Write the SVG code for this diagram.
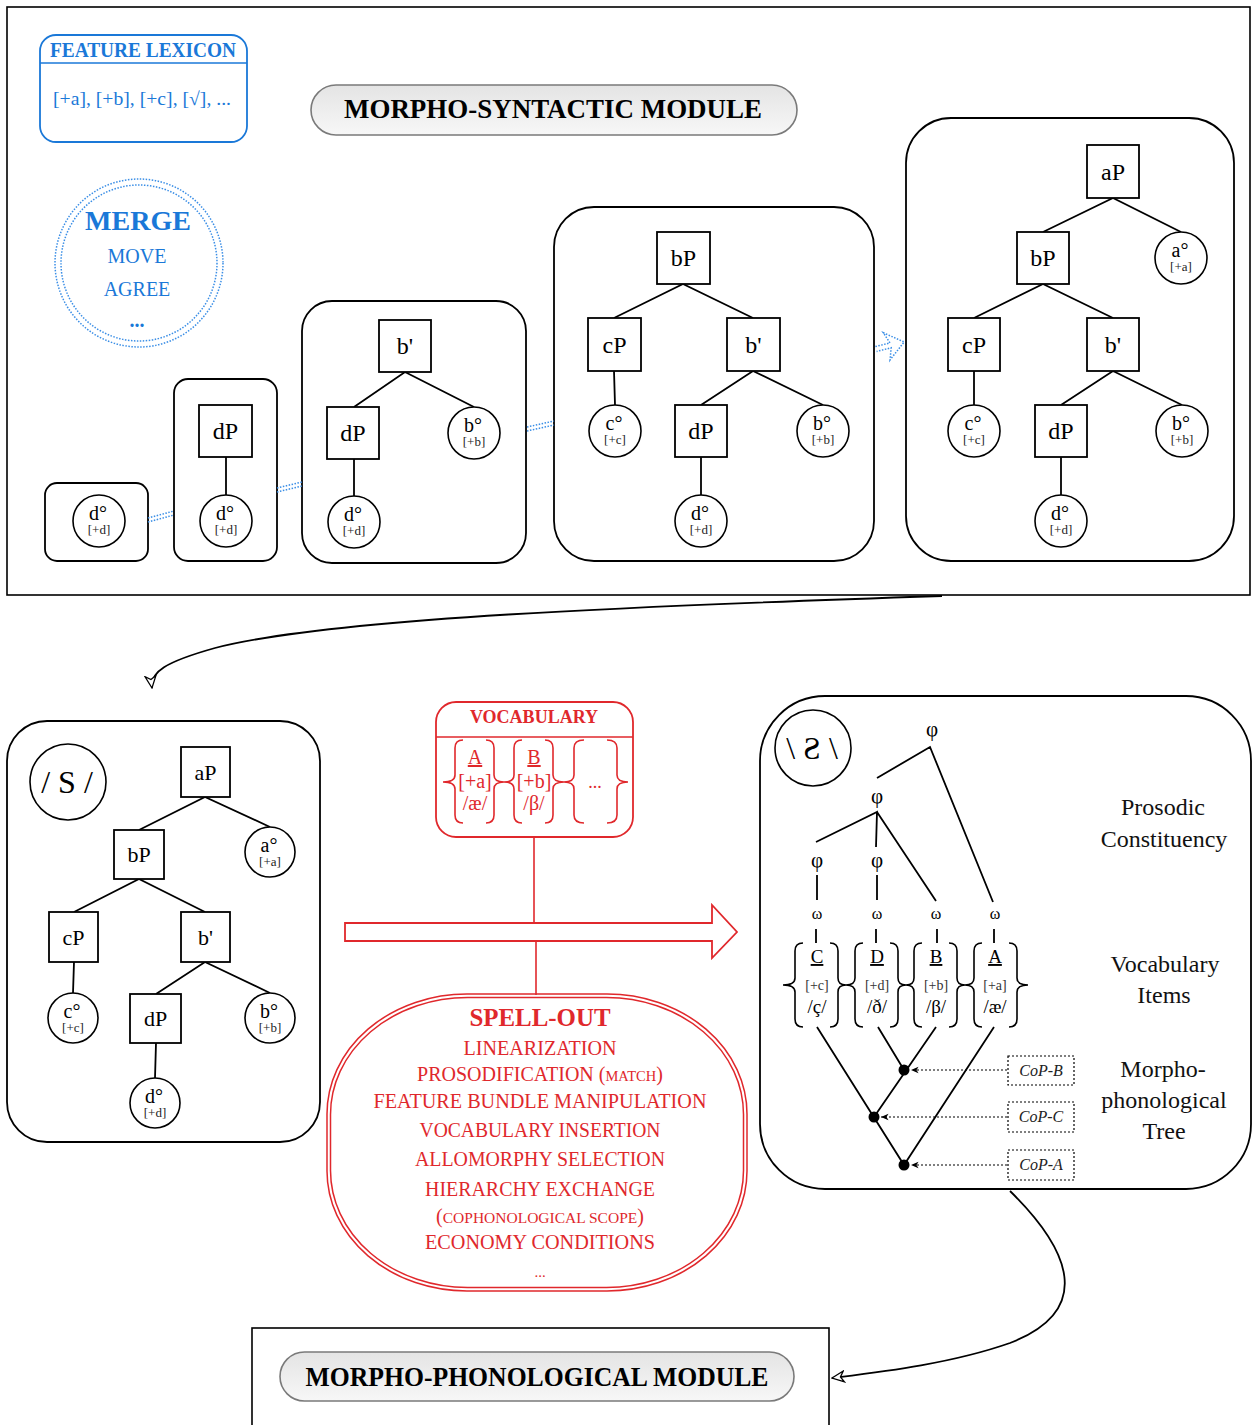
<svg xmlns="http://www.w3.org/2000/svg" width="1252" height="1425" viewBox="0 0 1252 1425">
<style>
text{font-family:"Liberation Serif","DejaVu Serif",serif;}
.frame{fill:none;stroke:#000;stroke-width:1.6;}
.box{fill:none;stroke:#000;stroke-width:1.8;}
.sq{fill:#fff;stroke:#000;stroke-width:1.8;}
.ci{fill:#fff;stroke:#000;stroke-width:1.6;}
.edge{stroke:#000;stroke-width:1.8;fill:none;}
.lbl{font-size:24px;text-anchor:middle;fill:#000;}
.lbl2{font-size:22px;text-anchor:middle;fill:#000;}
.hd{font-size:20px;text-anchor:middle;fill:#000;}
.ft{font-size:13px;text-anchor:middle;fill:#222;}
.pill{fill:url(#pg);stroke:#7a7a7a;stroke-width:1.6;}
.ptitle{font-size:27px;font-weight:bold;text-anchor:middle;fill:#000;}
.blue{fill:#1a78d8;}
.bdot{fill:none;stroke:#3a8ee6;stroke-width:1.5;stroke-dasharray:1.5 1.5;}
.red{fill:none;stroke:#e0282c;stroke-width:1.6;}
.rt{fill:#e0282c;text-anchor:middle;}
.so{font-size:20px;}
.brace{fill:none;stroke:#000;stroke-width:1.6;}
.rbrace{fill:none;stroke:#e0282c;stroke-width:1.6;}
.side{font-size:24px;text-anchor:middle;fill:#111;}
.cop{fill:#fff;stroke:#000;stroke-width:1.2;stroke-dasharray:2 2;}
.copt{font-size:16px;font-style:italic;text-anchor:middle;fill:#222;}
.dar{stroke:#000;stroke-width:1.2;stroke-dasharray:2 2;fill:none;}
</style>
<defs>
<linearGradient id="pg" x1="0" y1="0" x2="0" y2="1">
<stop offset="0" stop-color="#e4e4e4"/>
<stop offset="1" stop-color="#f7f7f7"/>
</linearGradient>
<marker id="open" viewBox="0 0 14 14" refX="13" refY="7" markerWidth="14" markerHeight="14" markerUnits="userSpaceOnUse" orient="auto">
<path d="M1,1.5 L13,7 L1,12.5 L4.5,7 Z" fill="#fff" stroke="#000" stroke-width="1.3"/>
</marker>
<marker id="small" viewBox="0 0 8 8" refX="7.5" refY="4" markerWidth="8" markerHeight="8" markerUnits="userSpaceOnUse" orient="auto">
<path d="M0,0.8 L7.5,4 L0,7.2 L2,4 Z" fill="#000"/>
</marker>
</defs>

<!-- ============ TOP: MORPHO-SYNTACTIC MODULE ============ -->
<rect id="syntax-frame" class="frame" x="7" y="7" width="1243" height="588"/>

<g id="feature-lexicon">
<rect x="40" y="35" width="207" height="107" rx="16" fill="#fff" stroke="#1a78d8" stroke-width="1.8"/>
<line x1="40" y1="63" x2="247" y2="63" stroke="#1a78d8" stroke-width="1.6"/>
<text x="143" y="57" class="blue" font-size="21" font-weight="bold" text-anchor="middle" textLength="186" lengthAdjust="spacingAndGlyphs">FEATURE LEXICON</text>
<text x="142" y="105" class="blue" font-size="19" text-anchor="middle" textLength="178" lengthAdjust="spacingAndGlyphs">[+a], [+b], [+c], [√], ...</text>
</g>

<g id="operations">
<circle cx="139" cy="263" r="84" class="bdot"/>
<circle cx="139" cy="263" r="78" class="bdot"/>
<text x="138" y="230" class="blue" font-size="28" font-weight="bold" text-anchor="middle">MERGE</text>
<text x="137" y="263" class="blue" font-size="20" text-anchor="middle">MOVE</text>
<text x="137" y="296" class="blue" font-size="20" text-anchor="middle">AGREE</text>
<text x="137" y="327" class="blue" font-size="20" font-weight="bold" text-anchor="middle">...</text>
</g>

<g id="title-syntax">
<rect class="pill" x="311" y="85" width="486" height="50" rx="25"/>
<text class="ptitle" x="553" y="118" textLength="418" lengthAdjust="spacingAndGlyphs">MORPHO-SYNTACTIC MODULE</text>
</g>

<!-- derivation step 1 -->
<g id="step1">
<rect class="box" x="45" y="483" width="103" height="78" rx="12"/>
<circle class="ci" cx="99" cy="521" r="26"/>
<text class="hd" x="98" y="520">d°</text>
<text class="ft" x="99" y="534">[+d]</text>
</g>

<!-- step 2 -->
<g id="step2">
<rect class="box" x="174" y="379" width="103" height="182" rx="14"/>
<line class="edge" x1="226" y1="457" x2="226" y2="495"/>
<rect class="sq" x="199" y="405" width="53" height="52"/>
<text class="lbl" x="225.5" y="439">dP</text>
<circle class="ci" cx="226" cy="521" r="26"/>
<text class="hd" x="225" y="520">d°</text>
<text class="ft" x="226" y="534">[+d]</text>
</g>

<!-- step 3 -->
<g id="step3">
<rect class="box" x="302" y="301" width="224" height="262" rx="30"/>
<path class="edge" d="M354,407 L405,372 L474,407 M354,459 L354,496"/>
<rect class="sq" x="379" y="320" width="52" height="52"/>
<text class="lbl" x="405" y="354">b'</text>
<rect class="sq" x="327" y="407" width="52" height="52"/>
<text class="lbl" x="353" y="441">dP</text>
<circle class="ci" cx="474" cy="433" r="26"/>
<text class="hd" x="473" y="432">b°</text>
<text class="ft" x="474" y="446">[+b]</text>
<circle class="ci" cx="354" cy="522" r="26"/>
<text class="hd" x="353" y="521">d°</text>
<text class="ft" x="354" y="535">[+d]</text>
</g>

<!-- step 4 -->
<g id="step4">
<rect class="box" x="554" y="207" width="320" height="354" rx="40"/>
<path class="edge" d="M614,318 L683,284 L753,318 M614,371 L615,405 M701,405 L753,371 L823,405 M701,457 L701,495"/>
<rect class="sq" x="657" y="232" width="53" height="52"/>
<text class="lbl" x="683.5" y="266">bP</text>
<rect class="sq" x="588" y="318" width="53" height="53"/>
<text class="lbl" x="614.5" y="353">cP</text>
<rect class="sq" x="727" y="318" width="53" height="53"/>
<text class="lbl" x="753.5" y="353">b'</text>
<circle class="ci" cx="615" cy="431" r="26"/>
<text class="hd" x="614" y="430">c°</text>
<text class="ft" x="615" y="444">[+c]</text>
<rect class="sq" x="675" y="405" width="52" height="52"/>
<text class="lbl" x="701" y="439">dP</text>
<circle class="ci" cx="823" cy="431" r="26"/>
<text class="hd" x="822" y="430">b°</text>
<text class="ft" x="823" y="444">[+b]</text>
<circle class="ci" cx="701" cy="521" r="26"/>
<text class="hd" x="700" y="520">d°</text>
<text class="ft" x="701" y="534">[+d]</text>
</g>

<!-- step 5 -->
<g id="step5">
<rect class="box" x="906" y="118" width="328" height="443" rx="45"/>
<path class="edge" d="M1043,232 L1113,198 L1181,232 M974,318 L1043,284 L1113,318 M974,371 L974,405 M1061,405 L1113,371 L1182,405 M1061,457 L1061,495"/>
<rect class="sq" x="1087" y="145" width="52" height="53"/>
<text class="lbl" x="1113" y="180">aP</text>
<rect class="sq" x="1017" y="232" width="52" height="52"/>
<text class="lbl" x="1043" y="266">bP</text>
<circle class="ci" cx="1181" cy="258" r="26"/>
<text class="hd" x="1180" y="257">a°</text>
<text class="ft" x="1181" y="271">[+a]</text>
<rect class="sq" x="948" y="318" width="52" height="53"/>
<text class="lbl" x="974" y="353">cP</text>
<rect class="sq" x="1087" y="318" width="52" height="53"/>
<text class="lbl" x="1113" y="353">b'</text>
<circle class="ci" cx="974" cy="431" r="26"/>
<text class="hd" x="973" y="430">c°</text>
<text class="ft" x="974" y="444">[+c]</text>
<rect class="sq" x="1035" y="405" width="52" height="52"/>
<text class="lbl" x="1061" y="439">dP</text>
<circle class="ci" cx="1182" cy="431" r="26"/>
<text class="hd" x="1181" y="430">b°</text>
<text class="ft" x="1182" y="444">[+b]</text>
<circle class="ci" cx="1061" cy="521" r="26"/>
<text class="hd" x="1060" y="520">d°</text>
<text class="ft" x="1061" y="534">[+d]</text>
</g>

<!-- ============ BOTTOM LEFT: syntactic structure S ============ -->
<g id="structure-S">
<rect class="box" x="7" y="721" width="313" height="421" rx="40"/>
<circle class="ci" cx="68" cy="782" r="38"/>
<text x="67" y="793" font-size="32" text-anchor="middle">/ S /</text>
<path class="edge" d="M139,830 L205,797 L270,827 M74,912 L139,879 L205,912 M74,962 L73,993 M156,994 L205,962 L270,993 M156,1043 L155,1078"/>
<rect class="sq" x="181" y="747" width="49" height="50"/>
<text class="lbl2" x="205.5" y="780">aP</text>
<circle class="ci" cx="270" cy="852" r="25"/>
<text class="hd" x="269" y="852">a°</text>
<text class="ft" x="270" y="866">[+a]</text>
<rect class="sq" x="114" y="830" width="50" height="49"/>
<text class="lbl2" x="139" y="862">bP</text>
<rect class="sq" x="49" y="912" width="49" height="50"/>
<text class="lbl2" x="73.5" y="945">cP</text>
<rect class="sq" x="181" y="912" width="49" height="50"/>
<text class="lbl2" x="205.5" y="945">b'</text>
<circle class="ci" cx="73" cy="1018" r="25"/>
<text class="hd" x="72" y="1018">c°</text>
<text class="ft" x="73" y="1032">[+c]</text>
<rect class="sq" x="130" y="994" width="51" height="49"/>
<text class="lbl2" x="155.5" y="1026">dP</text>
<circle class="ci" cx="270" cy="1018" r="25"/>
<text class="hd" x="269" y="1018">b°</text>
<text class="ft" x="270" y="1032">[+b]</text>
<circle class="ci" cx="155" cy="1103" r="25"/>
<text class="hd" x="154" y="1103">d°</text>
<text class="ft" x="155" y="1117">[+d]</text>
</g>

<!-- ============ VOCABULARY ============ -->
<g id="vocabulary">
<rect x="436" y="702" width="197" height="135" rx="20" fill="#fff" stroke="#e0282c" stroke-width="1.8"/>
<line x1="436" y1="737" x2="633" y2="737" stroke="#e0282c" stroke-width="1.6"/>
<text class="rt" x="534" y="723" font-size="18" font-weight="bold">VOCABULARY</text>
<path class="rbrace" d="M463,740 Q455,740 455,748 L455,775 Q455,782 443,782 Q455,782 455,789 L455,815 Q455,823 463,823"/>
<path class="rbrace" d="M486,740 Q494,740 494,748 L494,775 Q494,782 504,782 Q494,782 494,789 L494,815 Q494,823 486,823"/>
<path class="rbrace" d="M522,740 Q514,740 514,748 L514,775 Q514,782 504,782 Q514,782 514,789 L514,815 Q514,823 522,823"/>
<path class="rbrace" d="M545,740 Q553,740 553,748 L553,775 Q553,782 564,782 Q553,782 553,789 L553,815 Q553,823 545,823"/>
<path class="rbrace" d="M584,740 Q574,740 574,748 L574,775 Q574,782 564,782 Q574,782 574,789 L574,815 Q574,823 584,823"/>
<path class="rbrace" d="M607,740 Q617,740 617,748 L617,775 Q617,782 628,782 Q617,782 617,789 L617,815 Q617,823 607,823"/>
<text class="rt" x="475" y="764" font-size="20" text-decoration="underline">A</text>
<text class="rt" x="475" y="788" font-size="20">[+a]</text>
<text class="rt" x="475" y="810" font-size="20">/æ/</text>
<text class="rt" x="534" y="764" font-size="20" text-decoration="underline">B</text>
<text class="rt" x="534" y="788" font-size="20">[+b]</text>
<text class="rt" x="534" y="810" font-size="20">/β/</text>
<text class="rt" x="595" y="788" font-size="18">...</text>
</g>

<!-- ============ SPELL-OUT ============ -->
<g id="spell-out">
<rect x="327" y="994" width="420" height="297" rx="140" ry="120" fill="#fff" stroke="#e0282c" stroke-width="1.5"/>
<rect x="330.5" y="997.5" width="413" height="290" rx="137" ry="117" fill="none" stroke="#e0282c" stroke-width="1.5"/>
<text class="rt" x="540" y="1026" font-size="25" font-weight="bold" textLength="141" lengthAdjust="spacingAndGlyphs">SPELL-OUT</text>
<text class="rt so" x="540" y="1055" textLength="153" lengthAdjust="spacingAndGlyphs">LINEARIZATION</text>
<text class="rt so" x="540" y="1081">PROSODIFICATION (<tspan font-size="14.5">MATCH</tspan>)</text>
<text class="rt so" x="540" y="1108" textLength="333" lengthAdjust="spacingAndGlyphs">FEATURE BUNDLE MANIPULATION</text>
<text class="rt so" x="540" y="1137" textLength="241" lengthAdjust="spacingAndGlyphs">VOCABULARY INSERTION</text>
<text class="rt so" x="540" y="1166" textLength="250" lengthAdjust="spacingAndGlyphs">ALLOMORPHY SELECTION</text>
<text class="rt so" x="540" y="1196" textLength="230" lengthAdjust="spacingAndGlyphs">HIERARCHY EXCHANGE</text>
<text class="rt so" x="540" y="1223">(<tspan font-size="15.5">COPHONOLOGICAL SCOPE</tspan>)</text>
<text class="rt so" x="540" y="1249" textLength="230" lengthAdjust="spacingAndGlyphs">ECONOMY CONDITIONS</text>
<text class="rt" x="540" y="1277" font-size="15">...</text>
</g>

<!-- ============ BOTTOM RIGHT: morpho-phonological structure ============ -->
<g id="structure-mp">
<rect class="box" x="760" y="696" width="491" height="493" rx="65"/>
<circle class="ci" cx="813" cy="748" r="38"/>
<text x="812" y="759" font-size="32" text-anchor="middle">\ Ƨ \</text>
<path class="edge" d="M877,778 L930,747 L993,902 M816,842 L877,812 L876,847 M877,812 L936,901 M817,875 L817,900 M877,875 L877,900 M816,929 L816,943 M876,929 L876,943 M937,929 L937,943 M994,929 L994,943"/>
<text x="932" y="736" font-size="21" text-anchor="middle">φ</text>
<text x="877" y="803" font-size="21" text-anchor="middle">φ</text>
<text x="817" y="867" font-size="21" text-anchor="middle">φ</text>
<text x="877" y="867" font-size="21" text-anchor="middle">φ</text>
<text x="817" y="919" font-size="16" text-anchor="middle">ω</text>
<text x="877" y="919" font-size="16" text-anchor="middle">ω</text>
<text x="936" y="919" font-size="16" text-anchor="middle">ω</text>
<text x="995" y="919" font-size="16" text-anchor="middle">ω</text>
<path class="brace" d="M803,943 Q795,943 795,951 L795,978 Q795,985 783,985 Q795,985 795,992 L795,1019 Q795,1027 803,1027"/>
<path class="brace" d="M830,943 Q838,943 838,951 L838,978 Q838,985 846,985 Q838,985 838,992 L838,1019 Q838,1027 830,1027"/>
<path class="brace" d="M863,943 Q855,943 855,951 L855,978 Q855,985 846,985 Q855,985 855,992 L855,1019 Q855,1027 863,1027"/>
<path class="brace" d="M890,943 Q898,943 898,951 L898,978 Q898,985 906,985 Q898,985 898,992 L898,1019 Q898,1027 890,1027"/>
<path class="brace" d="M922,943 Q914,943 914,951 L914,978 Q914,985 906,985 Q914,985 914,992 L914,1019 Q914,1027 922,1027"/>
<path class="brace" d="M949,943 Q957,943 957,951 L957,978 Q957,985 965,985 Q957,985 957,992 L957,1019 Q957,1027 949,1027"/>
<path class="brace" d="M982,943 Q974,943 974,951 L974,978 Q974,985 965,985 Q974,985 974,992 L974,1019 Q974,1027 982,1027"/>
<path class="brace" d="M1009,943 Q1017,943 1017,951 L1017,978 Q1017,985 1028,985 Q1017,985 1017,992 L1017,1019 Q1017,1027 1009,1027"/>
<text x="817" y="963" font-size="19" text-anchor="middle" text-decoration="underline">C</text>
<text x="817" y="990" font-size="14" text-anchor="middle" fill="#333">[+c]</text>
<text x="817" y="1013" font-size="19" text-anchor="middle">/ç/</text>
<text x="877" y="963" font-size="19" text-anchor="middle" text-decoration="underline">D</text>
<text x="877" y="990" font-size="14" text-anchor="middle" fill="#333">[+d]</text>
<text x="877" y="1013" font-size="19" text-anchor="middle">/ð/</text>
<text x="936" y="963" font-size="19" text-anchor="middle" text-decoration="underline">B</text>
<text x="936" y="990" font-size="14" text-anchor="middle" fill="#333">[+b]</text>
<text x="936" y="1013" font-size="19" text-anchor="middle">/β/</text>
<text x="995" y="963" font-size="19" text-anchor="middle" text-decoration="underline">A</text>
<text x="995" y="990" font-size="14" text-anchor="middle" fill="#333">[+a]</text>
<text x="995" y="1013" font-size="19" text-anchor="middle">/æ/</text>
<path class="edge" d="M817,1027 L904,1165 L994,1027 M878,1027 L904,1070 M936,1027 L874,1117"/>
<circle cx="904" cy="1070" r="5.5" fill="#000"/>
<circle cx="874" cy="1117" r="5.5" fill="#000"/>
<circle cx="904" cy="1165" r="5.5" fill="#000"/>
<text class="side" x="1163" y="815">Prosodic</text>
<text class="side" x="1164" y="847">Constituency</text>
<text class="side" x="1165" y="972">Vocabulary</text>
<text class="side" x="1164" y="1003">Items</text>
<text class="side" x="1163" y="1077">Morpho-</text>
<text class="side" x="1164" y="1108">phonological</text>
<text class="side" x="1164" y="1139">Tree</text>
</g>

<g id="cop-B">
<rect class="cop" x="1008" y="1056" width="66" height="29"/>
<text class="copt" x="1041" y="1076">CoP-B</text>
</g>
<g id="cop-C">
<rect class="cop" x="1008" y="1102" width="66" height="30"/>
<text class="copt" x="1041" y="1122">CoP-C</text>
</g>
<g id="cop-A">
<rect class="cop" x="1008" y="1150" width="66" height="30"/>
<text class="copt" x="1041" y="1170">CoP-A</text>
</g>

<!-- ============ MORPHO-PHONOLOGICAL MODULE ============ -->
<g id="phonology-module">
<rect class="frame" x="252" y="1328" width="577" height="120"/>
<rect class="pill" x="280" y="1352" width="514" height="49" rx="24.5"/>
<text class="ptitle" x="537" y="1386" font-size="26" textLength="463" lengthAdjust="spacingAndGlyphs">MORPHO-PHONOLOGICAL MODULE</text>
</g>

<!-- ============ CONNECTORS ============ -->
<g id="connectors">
<!-- derivation steps (blue dotted double) -->
<path class="bdot" d="M148,518 L174,511 M148,522 L174,515"/>
<path class="bdot" d="M277,488 L302,482 M277,492 L302,486"/>
<path class="bdot" d="M527,427 L554,421 M527,431 L554,425"/>
<path class="bdot" transform="translate(876,349) rotate(-14)" d="M0,-2.5 L15,-2.5 L11,-14 L29,0 L11,14 L15,2.5 L0,2.5"/>
<!-- syntax to structure S -->
<path class="edge" stroke-width="2" d="M942,596 C640,606 330,618 215,648 C165,662 150,672 152,688" marker-end="url(#open)"/>
<!-- vocabulary / spell-out into the transfer arrow -->
<line x1="534" y1="837" x2="534" y2="923" class="red"/>
<line x1="536" y1="941" x2="536" y2="995" class="red"/>
<polygon points="345,923 712,923 712,905 737,932 712,958 712,941 345,941" fill="#fff" stroke="#e0282c" stroke-width="1.8"/>
<!-- CoP arrows -->
<line class="dar" x1="1007" y1="1070" x2="911" y2="1070" marker-end="url(#small)"/>
<line class="dar" x1="1007" y1="1117" x2="881" y2="1117" marker-end="url(#small)"/>
<line class="dar" x1="1007" y1="1165" x2="911" y2="1165" marker-end="url(#small)"/>
<!-- to morpho-phonological module -->
<path class="edge" stroke-width="1.6" d="M1010,1191 C1070,1250 1095,1310 1010,1343 C950,1364 880,1372 832,1378" marker-end="url(#open)"/>
</g>
</svg>
